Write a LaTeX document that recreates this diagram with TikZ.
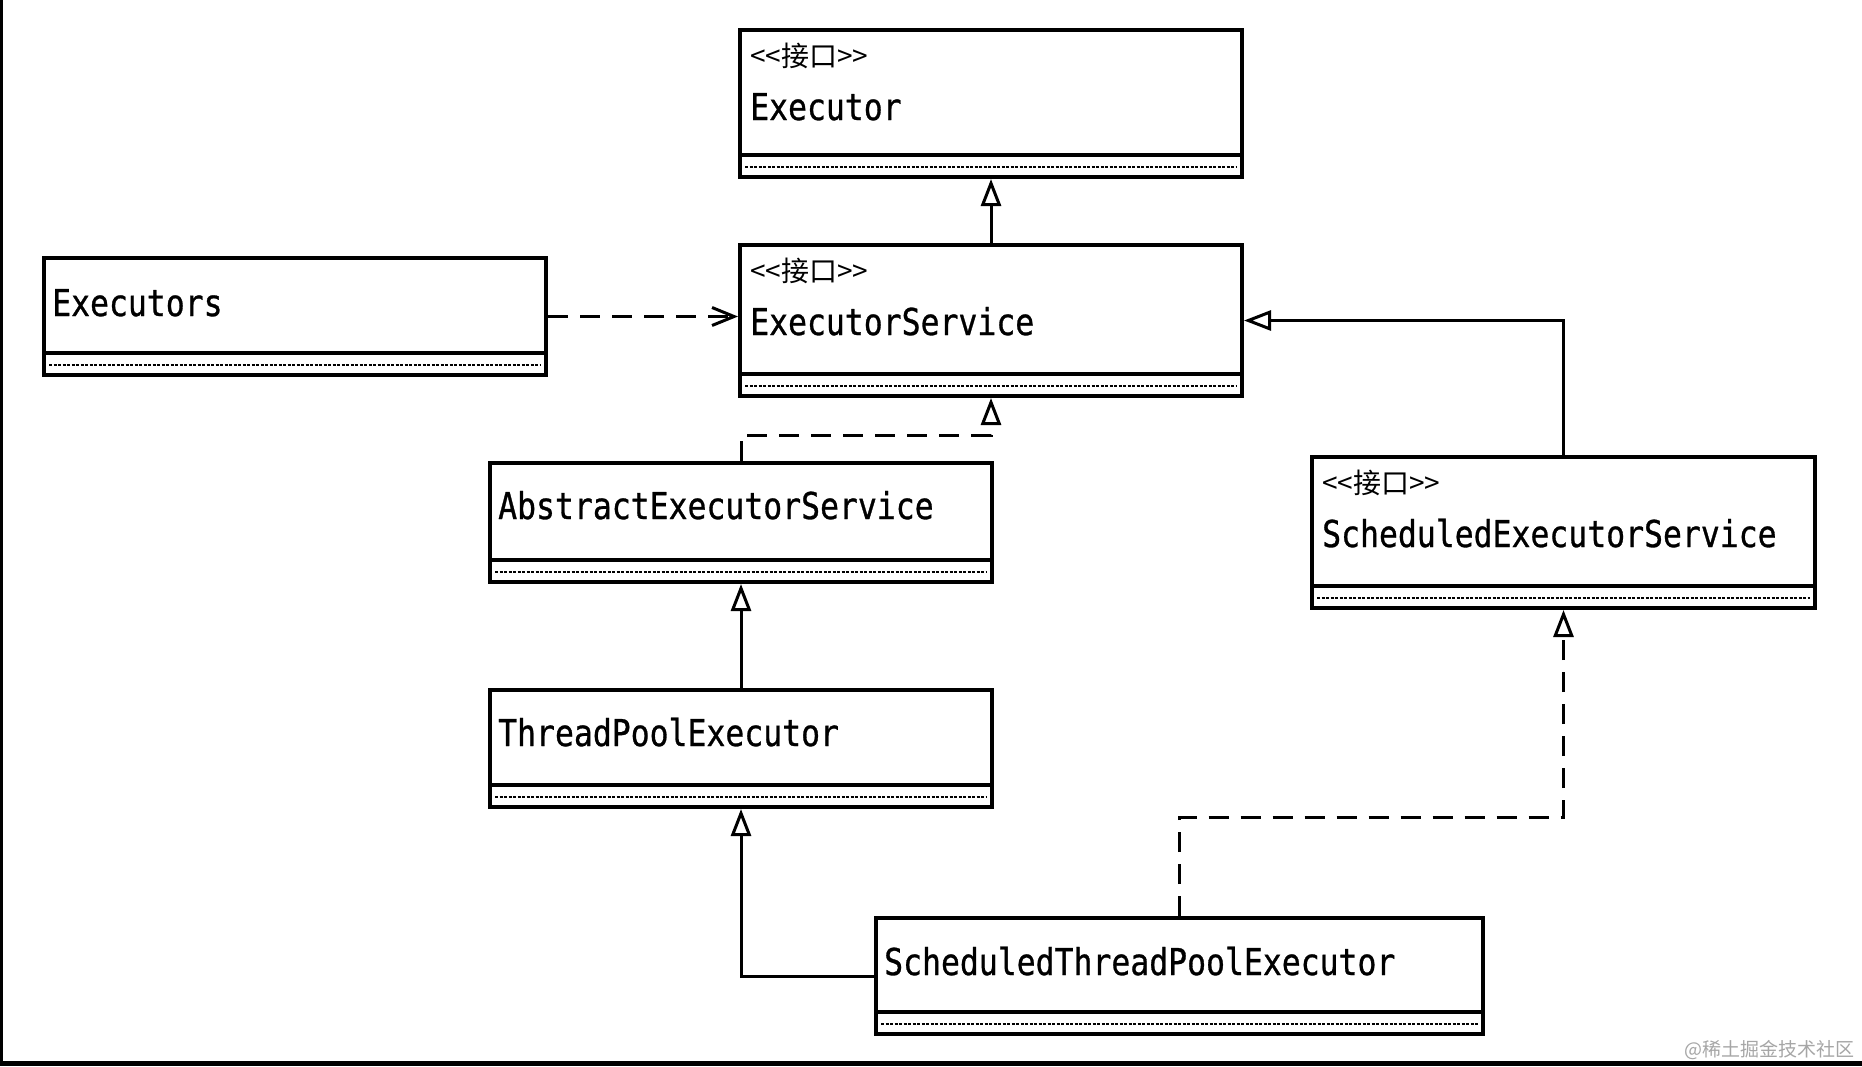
\documentclass[tikz,border=0pt]{standalone}
\usepackage{fontspec}
\usepackage{tikz}
\usetikzlibrary{calc}
\usetikzlibrary{arrows.meta}
\newfontfamily\umlfont[FakeStretch=0.85,FakeBold=0.8]{DejaVu Sans Mono}
\newfontfamily\cjkfont{Noto Sans CJK SC}

\tikzset{
  cls/.style={draw, line width=4pt, anchor=north west, inner sep=0pt},
  attr/.style={line width=2.2pt, dash pattern=on 3pt off 1.5pt},
  clsname/.style={anchor=base west, inner sep=0pt, font=\umlfont\fontsize{37}{40}\selectfont},
  stereo/.style={anchor=base west, inner sep=0pt, font=\cjkfont\fontsize{28}{30}\selectfont},
  gen/.style={line width=3pt, -{Triangle[open,length=27pt,width=20pt]}},
  real/.style={gen, dash pattern=on 20pt off 12pt},
  dep/.style={line width=3pt, dash pattern=on 20pt off 12pt, -{Straight Barb[length=22pt,width=18pt]}}
}

\begin{document}
\begin{tikzpicture}[x=1pt,y=-1pt]
\useasboundingbox (0,0) rectangle (1862,1066);
\fill[white] (0,0) rectangle (1862,1066);
\fill[black] (0,0) rectangle (3,1066);
\fill[black] (0,1061) rectangle (1862,1066);

% classes
\node[cls, minimum width=502pt, minimum height=147pt] (exec) at (738,28) {};
\node[cls, minimum width=502pt, minimum height=151pt] (esvc) at (738,243) {};
\node[cls, minimum width=502pt, minimum height=117pt] (execs) at (42,256) {};
\node[cls, minimum width=502pt, minimum height=119pt] (aes) at (488,461) {};
\node[cls, minimum width=502pt, minimum height=117pt] (tpe) at (488,688) {};
\node[cls, minimum width=503pt, minimum height=151pt] (ses) at (1310,455) {};
\node[cls, minimum width=607pt, minimum height=116pt] (stpe) at (874,916) {};

\foreach \n in {exec,esvc,execs,aes,tpe,ses,stpe} {
  \draw[line width=4pt] ([yshift=24pt]\n.south west) -- ([yshift=24pt]\n.south east);
  \draw[attr] ([xshift=7pt,yshift=12pt]\n.south west) -- ([xshift=-7pt,yshift=12pt]\n.south east);
}

% labels
\node[stereo] (exec-st) at ([xshift=12pt,yshift=-38pt]exec.north west) {<<接口>>};
\node[clsname] (exec-name) at ([xshift=12pt,yshift=-92pt]exec.north west) {Executor};
\node[stereo] (esvc-st) at ([xshift=12pt,yshift=-38pt]esvc.north west) {<<接口>>};
\node[clsname] (esvc-name) at ([xshift=12pt,yshift=-92pt]esvc.north west) {ExecutorService};
\node[stereo] (ses-st) at ([xshift=12pt,yshift=-38pt]ses.north west) {<<接口>>};
\node[clsname] (ses-name) at ([xshift=12pt,yshift=-92pt]ses.north west) {ScheduledExecutorService};
\node[clsname] (execs-name) at ([xshift=10pt,yshift=-60pt]execs.north west) {Executors};
\node[clsname] (aes-name) at ([xshift=10pt,yshift=-58pt]aes.north west) {AbstractExecutorService};
\node[clsname] (tpe-name) at ([xshift=10pt,yshift=-58pt]tpe.north west) {ThreadPoolExecutor};
\node[clsname] (stpe-name) at ([xshift=10pt,yshift=-59pt]stpe.north west) {ScheduledThreadPoolExecutor};

% relations
\draw[gen] (esvc.north) -- (exec.south);
\draw[dep] (execs.east) -- (execs.east -| esvc.west);
\draw[real] (aes.north) -- ++(0,-26) -| (esvc.south);
\draw[gen] (tpe.north) -- (aes.south);
\draw[gen] (stpe.west) -| (tpe.south);
\draw[real] (stpe.north) -- ++(0,-99) -| (ses.south);
\draw[gen] (ses.north) |- (esvc.east);

\node[anchor=base east, inner sep=0pt, text=black!35, font=\cjkfont\fontsize{19}{20}\selectfont] (mark) at (1855,1056) {@稀土掘金技术社区};
\end{tikzpicture}
\end{document}
